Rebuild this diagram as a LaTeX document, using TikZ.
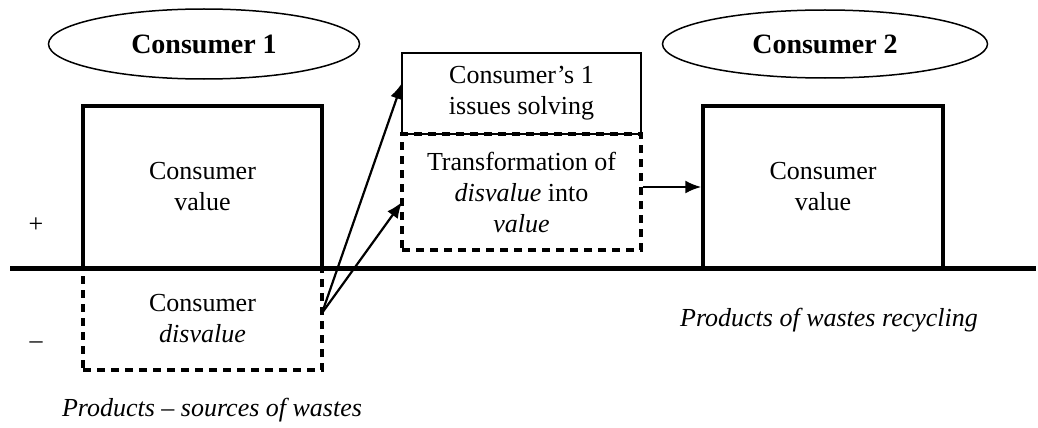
\documentclass[tikz,border=0pt]{standalone}
\usepackage{fontspec}
\setmainfont{Liberation Serif}
\usetikzlibrary{shapes.geometric,arrows.meta}
\tikzset{
  txt/.style={font=\fontsize{26}{31}\selectfont, align=center, inner sep=0pt},
  oval/.style={ellipse, draw, line width=1.5pt, inner sep=0pt, font=\fontsize{28}{32}\selectfont\bfseries},
  solidbox/.style={draw, line width=3.5pt, inner sep=0pt, txt},
  dashbox/.style={draw, line width=3.5pt, dash pattern=on 8pt off 6pt, inner sep=0pt, txt},
  thinbox/.style={draw, line width=2.2pt, inner sep=0pt, txt},
  thindash/.style={draw, line width=3.5pt, dash pattern=on 8pt off 6pt, inner sep=0pt, txt},
  arr/.style={-{Latex[length=16pt,width=13pt]}, line width=2.2pt},
  axis/.style={line width=5pt}
}
\begin{document}
\begin{tikzpicture}[x=1pt,y=-1pt]
\useasboundingbox (0,0) rectangle (1038,428);
% ellipses
\node[oval, minimum width=311pt, minimum height=70pt] (c1) at (204,44) {Consumer 1};
\node[oval, minimum width=325pt, minimum height=68pt] (c2) at (825,44) {Consumer 2};
% left boxes
\node[dashbox, minimum width=239pt, minimum height=102pt] (b1d) at (202.5,319) {Consumer\\\textit{disvalue}};
\node[solidbox, minimum width=239pt, minimum height=162pt] (b1) at (202.5,187) {Consumer\\value};
% middle boxes
\node[thindash, minimum width=239pt, minimum height=116pt] (md) at (521.5,192) {Transformation of\\\textit{disvalue} into\\\textit{value}};
\node[thinbox, minimum width=239pt, minimum height=81pt] (mt) at (521.5,93.5) {Consumer’s 1\\issues solving};
% right box
\node[solidbox, minimum width=240pt, minimum height=162pt] (b2) at (823,187) {Consumer\\value};
% axis
\coordinate (axl) at (10,268);
\coordinate (axr) at (1036,268);
\draw[axis] (axl) -- (axr);
% signs
\node[txt] (plus) at (36,225) {+};
\node[txt] (minus) at (36,345) {–};
% captions
\node[txt, font=\fontsize{26}{31}\selectfont\itshape] (cap1) at (212,410) {Products – sources of wastes};
\node[txt, font=\fontsize{26}{31}\selectfont\itshape] (cap2) at (829,320) {Products of wastes recycling};
% arrows
\coordinate (src) at (322,313);
\coordinate (t1) at (402,83);
\coordinate (t2) at (402,202);
\draw[arr] (src) -- (t1);
\draw[arr] (src) -- (t2);
\draw[arr] (md.east |- b2.west) -- (b2.west);
\end{tikzpicture}
\end{document}
